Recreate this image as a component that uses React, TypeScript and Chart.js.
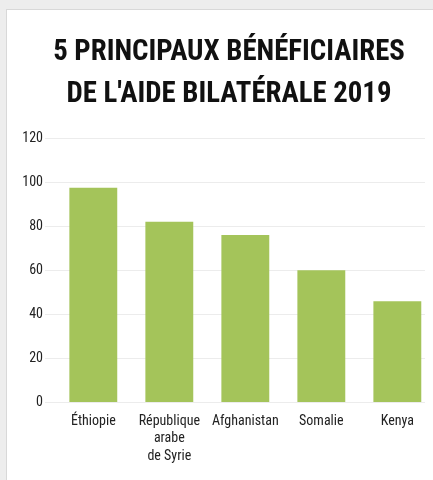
import React, { useEffect, useRef } from "react";
import { Chart, registerables } from "chart.js";

Chart.register(...registerables);

const categories: string[][] = [
  ["Éthiopie"],
  ["République", "arabe", "de Syrie"],
  ["Afghanistan"],
  ["Somalie"],
  ["Kenya"],
];
const values: number[] = [97.5, 82, 76, 60, 46];
const yTicks: number[] = [0, 20, 40, 60, 80, 100, 120];
const titleLines: string[] = ["5 PRINCIPAUX BÉNÉFICIAIRES", "DE L'AIDE BILATÉRALE 2019"];

const FONT = "'Roboto Condensed', 'DejaVu Sans Condensed', sans-serif";

const titleShift = {
  id: "titleShift",
  afterLayout(chart: any) {
    const t = chart.titleBlock;
    if (t) {
      t.left = 33;
      t.right = 425;
    }
  },
};

export default function App() {
  const ref = useRef<HTMLCanvasElement | null>(null);

  useEffect(() => {
    if (!ref.current) return;
    document.body.style.margin = "0";
    const chart = new Chart(ref.current, {
      type: "bar",
      data: {
        datasets: [
          {
            data: values.map((v, i) => ({ x: i, y: v })),
            backgroundColor: "#a4c45a",
            borderWidth: 0,
            categoryPercentage: 1,
            barPercentage: 0.63,
          },
        ],
      },
      plugins: [titleShift],
      options: {
        animation: false,
        responsive: false,
        maintainAspectRatio: false,
        layout: { padding: { left: 0, right: 8, top: 0, bottom: 13 } },
        plugins: {
          legend: { display: false },
          tooltip: { enabled: false },
          title: {
            display: true,
            text: titleLines,
            color: "#111",
            font: { family: FONT, size: 28.8, weight: "bold", lineHeight: 1.46 },
            padding: { top: 32, bottom: 22 },
          },
        },
        scales: {
          x: {
            type: "linear",
            offset: false,
            min: -0.504,
            max: 4.364,
            grid: { display: false },
            border: { display: false },
            afterBuildTicks: (scale: any) => {
              scale.ticks = categories.map((_, i) => ({ value: i }));
            },
            ticks: {
              autoSkip: false,
              maxRotation: 0,
              padding: 2,
              color: "#222",
              font: { family: FONT, size: 14, lineHeight: 1.25 },
              callback: (v: any) => categories[Number(v)],
            },
          },
          y: {
            min: 0,
            max: 120,
            afterFit: (scale: any) => {
              scale.width = 55;
            },
            afterBuildTicks: (scale: any) => {
              scale.ticks = yTicks.map((v) => ({ value: v }));
            },
            grid: { color: "#ececec", lineWidth: 1, tickLength: 10 },
            border: { display: false },
            ticks: {
              padding: 2,
              color: "#222",
              font: { family: FONT, size: 14 },
            },
          },
        },
      },
    });
    return () => chart.destroy();
  }, []);

  return (
    <div style={{ position: "fixed", left: 0, top: 0, width: 433, height: 480, background: "#ededed", overflow: "hidden" }}>
      <div
        style={{
          position: "absolute",
          left: 6,
          top: 9,
          width: 427,
          height: 471,
          background: "#fff",
          borderLeft: "1px solid #d8d8d8",
          borderTop: "1px solid #d8d8d8",
        }}
      />
      <canvas ref={ref} width={433} height={480} style={{ position: "absolute", left: 0, top: 0, width: 433, height: 480 }} />
    </div>
  );
}
